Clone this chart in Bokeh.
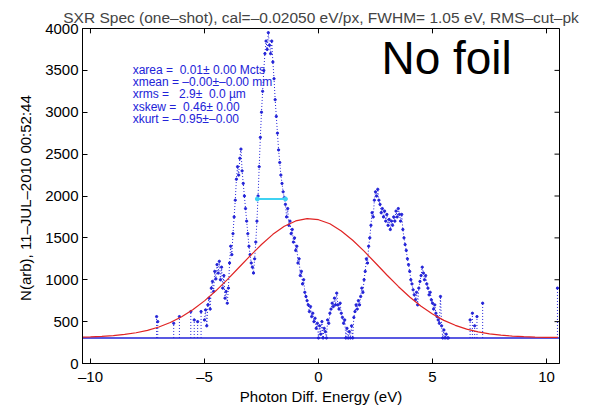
import numpy as np
from bokeh.plotting import figure
from bokeh.models import Label, FixedTicker, Range1d
from bokeh.embed import file_html
from bokeh.resources import INLINE

# ---------------- data ----------------
title_text = "SXR Spec (one\u2013shot), cal=\u20130.02050 eV/px, FWHM= 1.05 eV, RMS\u2013cut\u2013pk"
x_label = "Photon Diff. Energy (eV)"
y_label = "N(arb),  11\u2013JUL\u20132010 00:52:44"
x_ticks = [-10, -5, 0, 5, 10]
x_tick_labels = ["\u201310", "\u20135", "0", "5", "10"]
y_ticks = [0, 500, 1000, 1500, 2000, 2500, 3000, 3500, 4000]

# measured spectrum (counts), from -5.0 eV in 0.05 eV steps
spec_x0 = -5.0
spec_step = 0.05
spec_counts = [
    520, 640, 450, 700, 780, 650, 900, 980, 860, 1100,
    1010, 1180, 1080, 1220, 1000, 1150, 900, 1050, 780, 860,
    720, 900, 1200, 1400, 1300, 1550, 1750, 1950, 2200, 2350,
    2250, 2450, 2560, 2300, 2150, 2000, 1850, 1700, 1550, 1400,
    1300, 1200, 1150, 1080, 1250, 1450, 1700, 2000, 2350, 2700,
    3000, 3250, 3500, 3700, 3850, 3750, 3950, 3800, 3700, 3850,
    3600, 3400, 3150, 2950, 2750, 2550, 2400, 2250, 2150, 2050,
    1980, 1900, 1750, 1850, 1650, 1700, 1550, 1600, 1450, 1500,
    1350, 1400, 1200, 1250, 1050, 1100, 950, 1000, 850, 800,
    750, 700, 620, 680, 560, 600, 500, 540, 420, 480,
    305, 450, 350, 500, 305, 420, 380, 305, 520, 480,
    600, 650, 720, 680, 780, 700, 840, 700, 650, 720,
    600, 550, 480, 520, 305, 420, 305, 380, 305, 450,
    305, 550, 620, 700, 650, 750, 700, 800, 900, 850,
    1000, 1100, 1250, 1200, 1400, 1500, 1650, 1800, 1750, 1950,
    2050, 2000, 2080, 1950, 1900, 1800, 1850, 1750, 1820, 1700,
    1780, 1650, 1720, 1600, 1700, 1650, 1750, 1700, 1820, 1750,
    1850, 1780, 1700, 1780, 1600, 1500, 1420, 1350, 1250, 1180,
    1100, 1000, 950, 880, 820, 760, 850, 700, 900, 980,
    1050, 1150, 1080, 1000, 1050, 950, 900, 820, 850, 760,
    720, 650, 700, 600, 560, 520, 480, 800, 450, 305,
    400, 305, 350, 305, 305,
]
spec_x = np.round(spec_x0 + spec_step * np.arange(len(spec_counts)), 3)

# clipped floor of the spectrum
floor_level = 305
floor_x = [-10.35, 10.57]
floor_counts = [305, 305]

# isolated single-pixel spikes above the floor
spike_x = [-7.1, -7.05, -6.35, -6.1, -5.6, -5.45, -5.3, -5.15, 6.65, 6.75, 6.85, 6.95, 7.2, 10.48]
spike_counts = [560, 500, 480, 560, 620, 520, 500, 620, 520, 600, 450, 560, 720, 900]

# gaussian fit (red), read at 0.5 eV steps
fit_x = np.round(np.arange(-10.5, 10.51, 0.5), 2)
fit_counts = [
    315, 318, 324, 333, 347, 367, 396, 436, 490, 559,
    645, 748, 868, 1001, 1143, 1285, 1421, 1542, 1638, 1702,
    1729, 1717, 1668, 1583, 1472, 1341, 1200, 1057, 920, 794,
    684, 591, 515, 456, 411, 378, 354, 338, 327, 320,
    316, 313, 312,
]

# FWHM marker (cyan)
fwhm_x = [-2.68, -1.45]
fwhm_counts = [1965, 1965]

NB = "\u00a0"
stats_lines = [
    "xarea =" + NB * 2 + "0.01\u00b1" + NB + "0.00 Mcts",
    "xmean =" + NB + "\u20130.00\u00b1\u20130.00 mm",
    "xrms =" + NB * 3 + "2.9\u00b1" + NB * 2 + "0.0 \u00b5m",
    "xskew =" + NB * 2 + "0.46\u00b1" + NB + "0.00",
    "xkurt =" + NB + "\u20130.95\u00b1\u20130.00",
]
stats_y = [3503, 3357, 3213, 3066, 2922]
stats_x = -8.15
note_text = "No foil"

# ---------------- figure ----------------
FONT = "Liberation Sans"
BLUE = "#2222d8"
RED = "#e02424"
CYAN = "#3fd2f2"
X0, X1, Y0, Y1 = -10.35, 10.57, 0, 4000
FRAME_W, FRAME_H = 477, 344
TICK_PX = 5

p = figure(width=596, height=407, output_backend="svg", toolbar_location=None,
           x_range=Range1d(X0, X1), y_range=Range1d(Y0, Y1),
           min_border_left=82, min_border_right=37, min_border_top=28, min_border_bottom=35)
p.background_fill_color = "white"
p.border_fill_color = "white"
p.outline_line_color = "black"
p.outline_line_width = 1
p.grid.visible = False

p.title.text = title_text
p.title.align = "center"
p.title.text_font = FONT
p.title.text_font_size = "15.5px"
p.title.text_font_style = "normal"
p.title.standoff = 6

xa = p.below[0]
xa.ticker = FixedTicker(ticks=x_ticks)
xa.major_label_overrides = {t: l for t, l in zip(x_ticks, x_tick_labels)}
ya = p.left[0]
ya.ticker = FixedTicker(ticks=y_ticks)

for ax in (xa, ya):
    ax.major_tick_in = TICK_PX
    ax.major_tick_out = 0
    ax.minor_tick_line_color = None
    ax.axis_line_color = "black"
    ax.major_tick_line_color = "black"
    ax.major_label_text_font = FONT
    ax.major_label_text_font_size = "15px"
    ax.major_label_text_color = "black"
    ax.axis_label_text_font = FONT
    ax.axis_label_text_font_style = "normal"
    ax.axis_label_text_color = "black"
    ax.major_label_standoff = 4

xa.axis_label = x_label
xa.axis_label_text_font_size = "15px"
xa.axis_label_standoff = 0
ya.axis_label = y_label
ya.axis_label_text_font_size = "15px"
ya.axis_label_standoff = 8

# inward ticks on the top and right edges of the box
dy_tick = TICK_PX * (Y1 - Y0) / FRAME_H
dx_tick = TICK_PX * (X1 - X0) / FRAME_W
p.segment(x0=x_ticks, y0=[Y1] * len(x_ticks), x1=x_ticks, y1=[Y1 - dy_tick] * len(x_ticks),
          line_color="black", line_width=1)
p.segment(x0=[X1] * len(y_ticks), y0=y_ticks, x1=[X1 - dx_tick] * len(y_ticks), y1=y_ticks,
          line_color="black", line_width=1)

# spectrum
p.line(floor_x, floor_counts, line_color=BLUE, line_width=1.5)
p.segment(x0=spike_x, y0=[floor_level] * len(spike_x), x1=spike_x, y1=spike_counts,
          line_color=BLUE, line_width=1, line_dash="1 2")
p.scatter(spike_x, spike_counts, size=2.3, color=BLUE)
p.line(spec_x, spec_counts, line_color=BLUE, line_width=1, line_dash="1 2")
p.scatter(spec_x, spec_counts, size=2.3, color=BLUE)

# fit
p.line(fit_x, fit_counts, line_color=RED, line_width=1.2)

# FWHM bar
p.line(fwhm_x, fwhm_counts, line_color=CYAN, line_width=2)
p.scatter(fwhm_x, fwhm_counts, size=4, color=CYAN)

for txt, yy in zip(stats_lines, stats_y):
    p.add_layout(Label(x=stats_x, y=yy, text=txt, text_font=FONT, text_font_size="12px",
                       text_color=BLUE, text_baseline="middle"))

p.add_layout(Label(x=2.76, y=3650, text=note_text, text_font=FONT, text_font_size="46px",
                   text_color="black", text_baseline="alphabetic"))

open("out.html", "w").write(file_html(p, INLINE))
